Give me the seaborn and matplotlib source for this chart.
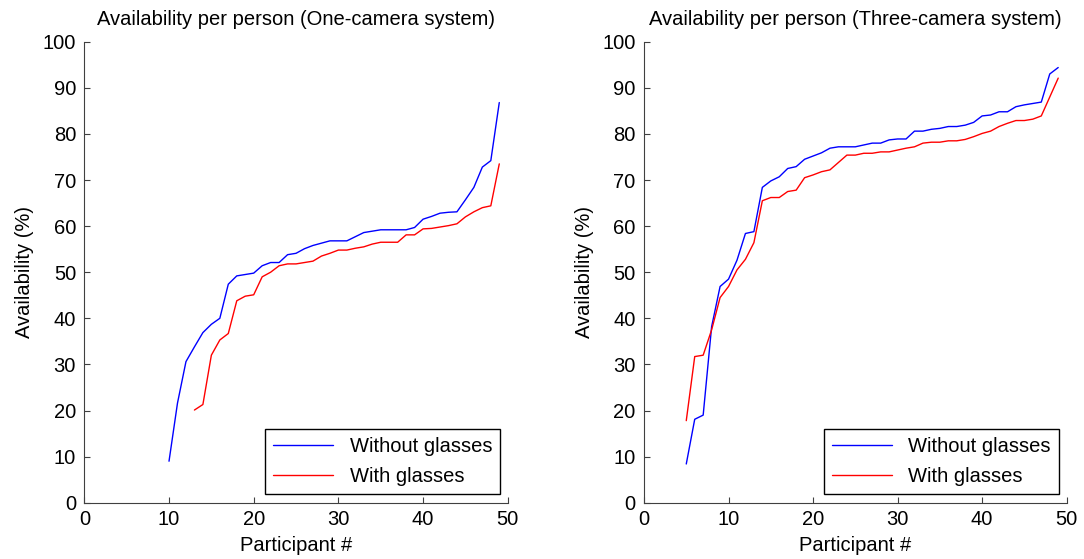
import pandas as pd
import matplotlib
matplotlib.use("Agg")
import matplotlib.pyplot as plt
import seaborn as sns

sns.set_style("white")
plt.rcParams['font.family'] = ['Liberation Sans', 'DejaVu Sans']
plt.rcParams['text.color'] = 'black'
plt.rcParams['axes.labelcolor'] = 'black'

# One-camera system
one_without_x = list(range(10, 50))
one_without_y = [9.0, 21.6, 30.6, 33.8, 36.9, 38.7, 40.0, 47.4, 49.2, 49.5,
                 49.8, 51.4, 52.1, 52.1, 53.8, 54.1, 55.1, 55.8, 56.3, 56.8,
                 56.8, 56.8, 57.7, 58.6, 58.9, 59.2, 59.2, 59.2, 59.2, 59.7,
                 61.5, 62.1, 62.8, 63.0, 63.1, 65.7, 68.4, 72.8, 74.2, 86.8]
one_with_x = list(range(13, 50))
one_with_y = [20.1, 21.3, 32.0, 35.3, 36.7, 43.8, 44.8, 45.1, 49.0, 50.0,
              51.4, 51.8, 51.8, 52.1, 52.4, 53.5, 54.1, 54.8, 54.8, 55.2,
              55.5, 56.1, 56.5, 56.5, 56.5, 58.1, 58.1, 59.4, 59.5, 59.8,
              60.1, 60.5, 62.0, 63.1, 64.0, 64.4, 73.5]

# Three-camera system
three_without_x = list(range(5, 50))
three_without_y = [8.4, 18.1, 19.0, 38.2, 46.9, 48.5, 52.6, 58.4, 58.8, 68.4,
                   69.8, 70.7, 72.5, 72.9, 74.5, 75.2, 75.9, 76.9, 77.2, 77.2,
                   77.2, 77.6, 78.0, 78.0, 78.7, 78.9, 78.9, 80.6, 80.6, 81.0,
                   81.2, 81.6, 81.6, 81.9, 82.5, 83.9, 84.1, 84.8, 84.8, 85.9,
                   86.3, 86.6, 86.9, 93.0, 94.4]
three_with_x = list(range(5, 50))
three_with_y = [17.8, 31.7, 32.0, 37.5, 44.5, 46.9, 50.5, 52.8, 56.4, 65.5,
                66.2, 66.2, 67.5, 67.8, 70.5, 71.1, 71.8, 72.2, 73.8, 75.4,
                75.4, 75.8, 75.8, 76.1, 76.1, 76.5, 76.9, 77.2, 78.0, 78.2,
                78.2, 78.5, 78.5, 78.8, 79.4, 80.1, 80.6, 81.6, 82.3, 82.9,
                82.9, 83.2, 83.9, 88.0, 92.1]

labels = ["Without glasses", "With glasses"]
titles = ["Availability per person (One-camera system)",
          "Availability per person (Three-camera system)"]


def make_df(wx, wy, gx, gy):
    a = pd.DataFrame({"participant": wx, "availability": wy, "condition": labels[0]})
    b = pd.DataFrame({"participant": gx, "availability": gy, "condition": labels[1]})
    return pd.concat([a, b], ignore_index=True)


frames = [make_df(one_without_x, one_without_y, one_with_x, one_with_y),
          make_df(three_without_x, three_without_y, three_with_x, three_with_y)]

fs = 14.5
fig = plt.figure(figsize=(10.84, 5.59), dpi=100)
positions = [[0.0778, 0.1007, 0.3906, 0.8247], [0.5941, 0.1007, 0.3899, 0.8247]]

for pos, df, title in zip(positions, frames, titles):
    ax = fig.add_axes(pos)
    sns.lineplot(data=df, x="participant", y="availability", hue="condition",
                 palette={labels[0]: "#0000ff", labels[1]: "#ff0000"},
                 linewidth=1.0, ax=ax, legend=False)
    ax.set_xlim(0, 50)
    ax.set_ylim(0, 100)
    ax.set_xticks(range(0, 51, 10))
    ax.set_yticks(range(0, 101, 10))
    ax.set_title(title, fontsize=fs, pad=12, color="black")
    ax.set_xlabel("Participant #", fontsize=fs, labelpad=5)
    ax.set_ylabel("Availability (%)", fontsize=fs, labelpad=6)
    ax.tick_params(direction="in", length=4, width=0.8, color="#404040",
                   labelcolor="black", labelsize=fs, left=True, bottom=True)
    ax.tick_params(axis="y", pad=6)
    ax.tick_params(axis="x", pad=5)
    for s in ["top", "right"]:
        ax.spines[s].set_visible(False)
    for s in ["left", "bottom"]:
        ax.spines[s].set_color("#404040")
        ax.spines[s].set_linewidth(0.8)
    h = [plt.Line2D([], [], color="#0000ff", lw=1.0),
         plt.Line2D([], [], color="#ff0000", lw=1.0)]
    leg = ax.legend(h, labels, loc="lower right", bbox_to_anchor=(0.982, 0.019),
                    borderaxespad=0, fontsize=fs, frameon=True, fancybox=False,
                    handlelength=3.0, edgecolor="black", framealpha=1,
                    labelspacing=0.55, labelcolor="black")
    leg.get_frame().set_linewidth(1.0)

fig.savefig("out.png", dpi=100)
